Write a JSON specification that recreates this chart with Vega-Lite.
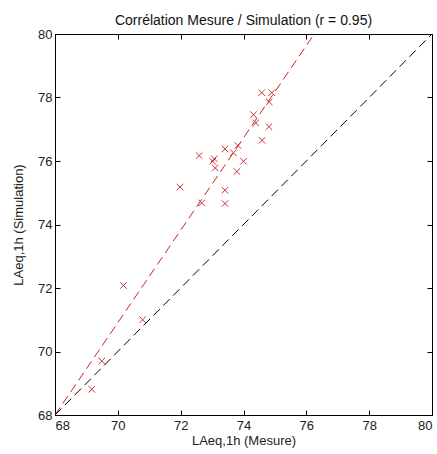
{
  "$schema": "https://vega.github.io/schema/vega-lite/v6.json",
  "autosize": {"type": "none"},
  "padding": {"left": 55, "top": 34, "right": 5, "bottom": 39},
  "width": 377,
  "height": 381,
  "title": {"text": "Corrélation Mesure / Simulation (r = 0.95)", "font": "Liberation Sans", "fontSize": 14, "fontWeight": "normal", "color": "#111111", "offset": 0, "anchor": "middle"},
  "config": {
    "view": {"stroke": "#000000", "strokeWidth": 1},
    "axis": {"domainColor": "#000000", "tickColor": "#000000", "labelColor": "#222222", "titleColor": "#222222", "labelFont": "Liberation Sans", "titleFont": "Liberation Sans", "labelFontSize": 13, "titleFontSize": 13, "titleFontWeight": "normal", "grid": false, "tickSize": -5}
  },
  "datasets": {
    "points": [
      {"mesure": 74.58, "simulation": 78.15},
      {"mesure": 74.90, "simulation": 78.15},
      {"mesure": 74.82, "simulation": 77.86},
      {"mesure": 74.32, "simulation": 77.46},
      {"mesure": 74.39, "simulation": 77.20},
      {"mesure": 74.81, "simulation": 77.08},
      {"mesure": 74.59, "simulation": 76.65},
      {"mesure": 73.41, "simulation": 76.38},
      {"mesure": 73.82, "simulation": 76.49},
      {"mesure": 73.68, "simulation": 76.26},
      {"mesure": 72.59, "simulation": 76.17},
      {"mesure": 73.07, "simulation": 76.07},
      {"mesure": 73.02, "simulation": 75.99},
      {"mesure": 73.10, "simulation": 75.78},
      {"mesure": 74.00, "simulation": 75.99},
      {"mesure": 73.79, "simulation": 75.67},
      {"mesure": 71.98, "simulation": 75.18},
      {"mesure": 73.41, "simulation": 75.08},
      {"mesure": 72.67, "simulation": 74.68},
      {"mesure": 73.41, "simulation": 74.66},
      {"mesure": 70.18, "simulation": 72.08},
      {"mesure": 70.79, "simulation": 71.00},
      {"mesure": 69.49, "simulation": 69.70},
      {"mesure": 69.17, "simulation": 68.81}
    ],
    "lines": [
      {"series": "fit", "x": 68, "y": 68},
      {"series": "fit", "x": 76.25, "y": 80},
      {"series": "ident", "x": 68, "y": 68},
      {"series": "ident", "x": 80, "y": 80}
    ]
  },
  "layer": [
    {
      "data": {"name": "lines"},
      "mark": {"type": "line", "strokeDash": [9, 5], "strokeWidth": 1, "clip": true},
      "encoding": {
        "x": {"field": "x", "type": "quantitative", "scale": {"domain": [68, 80], "nice": false, "zero": false},
              "axis": {"orient": "top", "values": [68, 70, 72, 74, 76, 78, 80], "labels": false, "title": null}},
        "y": {"field": "y", "type": "quantitative", "scale": {"domain": [68, 80], "nice": false, "zero": false},
              "axis": {"orient": "right", "values": [68, 70, 72, 74, 76, 78, 80], "labels": false, "title": null}},
        "color": {"field": "series", "type": "nominal", "scale": {"domain": ["fit", "ident"], "range": ["#d42020", "#000000"]}, "legend": null}
      }
    },
    {
      "data": {"name": "points"},
      "mark": {"type": "point", "shape": "M-1,-1L1,1M-1,1L1,-1", "size": 42, "strokeWidth": 1, "color": "#d03030", "opacity": 1, "filled": false},
      "encoding": {
        "x": {"field": "mesure", "type": "quantitative", "scale": {"domain": [68, 80], "nice": false, "zero": false},
              "axis": {"orient": "bottom", "values": [68, 70, 72, 74, 76, 78, 80], "title": "LAeq,1h (Mesure)", "labelPadding": 9, "titlePadding": 2}},
        "y": {"field": "simulation", "type": "quantitative", "scale": {"domain": [68, 80], "nice": false, "zero": false},
              "axis": {"orient": "left", "values": [68, 70, 72, 74, 76, 78, 80], "title": "LAeq,1h (Simulation)", "labelPadding": 8, "titlePadding": 12}}
      }
    }
  ],
  "resolve": {"axis": {"x": "independent", "y": "independent"}}
}
